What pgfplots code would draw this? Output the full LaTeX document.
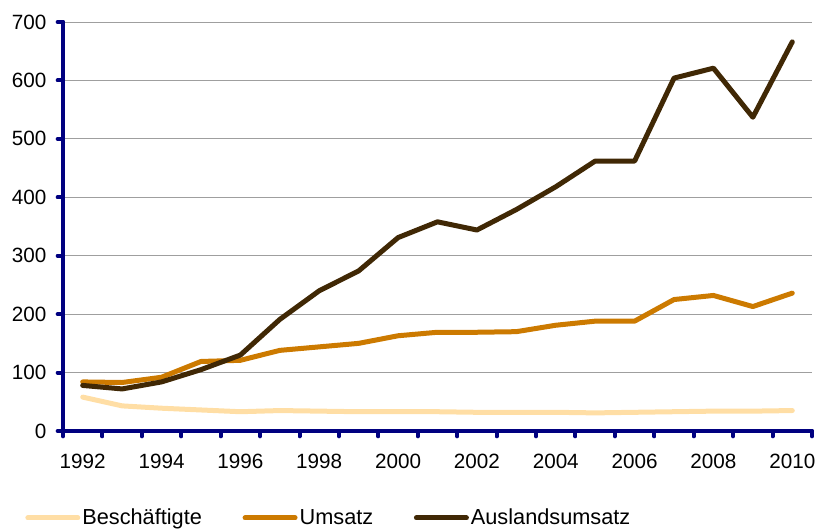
\documentclass[border=0pt]{standalone}
\usepackage{pgfplots}
\pgfplotsset{compat=1.18}
\usepackage{fontspec}
\setmainfont{Liberation Sans}

\definecolor{besch}{RGB}{255,222,165}
\definecolor{umsatz}{RGB}{204,122,0}
\definecolor{ausland}{RGB}{64,40,5}
\definecolor{axisblue}{RGB}{0,0,128}

\begin{document}
\begin{tikzpicture}
% fix picture size to the reference proportions (1px = 0.75pt)
\path[use as bounding box] (-47.25pt,-73.5pt) rectangle (574.5pt,323.25pt);
\begin{axis}[
    scale only axis,
    width=561.75pt, height=306.75pt,
    xmin=1991.5, xmax=2010.5,
    ymin=0, ymax=700,
    axis lines*=left,
    axis line style={axisblue, line width=3pt, line cap=round, -},
    xtick={1992,1994,...,2010},
    minor xtick={1991.5,1992.5,...,2010.5},
    ytick={0,100,...,700},
    major x tick style={draw=none},
    tick style={axisblue, line width=3pt, line cap=round},
    tick align=outside,
    major tick length=4pt,
    minor tick length=4pt,
    ymajorgrids=true,
    major grid style={gray!75, line width=0.75pt},
    x tick label style={/pgf/number format/1000 sep={}, yshift=-10pt},
    y tick label style={xshift=-5pt},
    tick label style={font=\fontsize{15.5}{18}\selectfont},
    /pgf/number format/assume math mode=true,
    legend style={
        at={(-0.056,-0.2127)}, anchor=west,
        draw=none, fill=none,
        legend columns=-1,
        font=\fontsize{16.3}{19}\selectfont,
        /tikz/every odd column/.append style={column sep=-0.5pt},
        /tikz/every even column/.append style={column sep=28.5pt},
    },
    legend image code/.code={\draw[#1, line cap=round] (1.9pt,0pt) -- (39.4pt,0pt);},
    every axis plot/.append style={line width=3.75pt, line join=round, line cap=round, mark=none},
]
\addplot[besch] coordinates {
(1992,58) (1993,43) (1994,39) (1995,36) (1996,33) (1997,35) (1998,34) (1999,33) (2000,33) (2001,33)
(2002,32) (2003,32) (2004,32) (2005,31) (2006,32) (2007,33) (2008,34) (2009,34) (2010,35)};
\addlegendentry{Beschäftigte}
\addplot[umsatz] coordinates {
(1992,84) (1993,83) (1994,92) (1995,119) (1996,121) (1997,138) (1998,144) (1999,150) (2000,163) (2001,169)
(2002,169) (2003,170) (2004,181) (2005,188) (2006,188) (2007,225) (2008,232) (2009,213) (2010,236)};
\addlegendentry{Umsatz}
\addplot[ausland] coordinates {
(1992,78) (1993,72) (1994,84) (1995,105) (1996,130) (1997,191) (1998,240) (1999,274) (2000,331) (2001,358)
(2002,344) (2003,379) (2004,418) (2005,462) (2006,462) (2007,604) (2008,621) (2009,537) (2010,666)};
\addlegendentry{Auslandsumsatz}
\end{axis}
\end{tikzpicture}
\end{document}
